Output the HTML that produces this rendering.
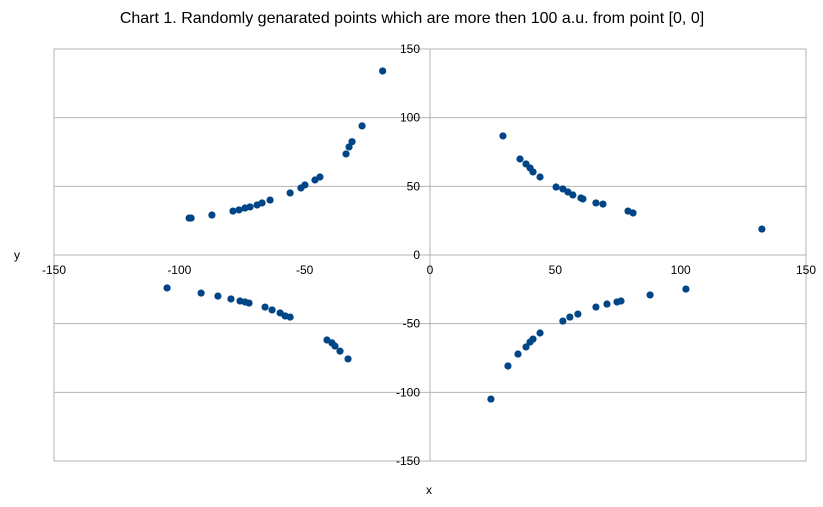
<!DOCTYPE html>
<html><head><meta charset="utf-8"><style>
body{margin:0;background:#fff;}
svg text{font-family:"Liberation Sans",sans-serif;fill:#000;}
</style></head><body>
<svg id="chart" width="823" height="502" xmlns="http://www.w3.org/2000/svg">
<text x="412" y="23" font-size="16" text-anchor="middle">Chart 1. Randomly genarated points which are more then 100 a.u. from point [0, 0]</text>
<text x="17" y="259" font-size="12" text-anchor="middle">y</text>
<text x="429" y="494" font-size="12" text-anchor="middle">x</text>
<g id="grid"></g><g id="axes"></g><g id="pts"></g>
</svg>
<script>
const xs=[-18.9,-27.1,-31.1,-32.3,-33.5,-43.9,-45.9,-49.9,-51.5,-55.8,-63.8,-67,-69,-71.8,-73.8,-76.2,-78.6,-87,-95.3,-96.1,
-104.9,-91.3,-84.6,-79.4,-75.8,-73.8,-72.2,-65.8,-63,-59.8,-57.8,-55.8,-41.1,-39.1,-37.9,-35.9,-32.7,
29.1,35.9,38.3,39.9,41.1,43.9,50.3,53,55,57,60.2,61,66.2,69,79,81,132.4,
24.3,31.1,35.1,38.3,39.9,41.1,43.9,53,55.8,59,66.2,70.6,74.6,76.2,87.8,102.1];
const ys=[134,94,82.5,78.7,73.6,56.8,54.6,51,48.8,45.2,40,37.9,36.4,35,34.2,32.8,32,29.1,26.9,26.9,
-24,-27.7,-29.9,-32,-33.5,-34.2,-35,-37.9,-40,-42.2,-44.4,-45.2,-61.9,-64,-66.3,-70,-75.7,
86.7,69.9,66.3,63.4,60.5,56.8,49.5,48.1,45.9,43.7,41.5,40.8,37.9,37.1,32,30.6,18.9,
-104.9,-80.8,-72.1,-67,-63.4,-61.2,-56.8,-48.1,-45.2,-43,-37.9,-35.7,-34.2,-33.5,-29.1,-24.8];
const xTicks=[-150,-100,-50,0,50,100,150];
const yTicks=[-150,-100,-50,0,50,100,150];
const NS="http://www.w3.org/2000/svg";
const L=54,R=806,T=49,B=461;
const sx=v=>L+(v+150)/300*(R-L);
const sy=v=>B-(v+150)/300*(B-T);
function mk(tag,attrs,parent){const e=document.createElementNS(NS,tag);for(const k in attrs)e.setAttribute(k,attrs[k]);parent.appendChild(e);return e;}
const grid=document.getElementById('grid'),axes=document.getElementById('axes'),pts=document.getElementById('pts');
const frame=mk('rect',{x:L,y:T,width:R-L,height:B-T,fill:'none',stroke:'#b3b3b3'},grid);


yTicks.forEach(v=>{
  const g=mk('line',{x1:L,x2:R,y1:sy(v),y2:sy(v),stroke:'#b3b3b3'},grid);
  
  
  const t=mk('text',{x:sx(0)-10,y:sy(v)+4,'font-size':12,'text-anchor':'end'},axes);
  t.textContent=v;
  
  
});
const va=mk('line',{x1:sx(0),x2:sx(0),y1:T,y2:B,stroke:'#b3b3b3'},axes);


xTicks.forEach(v=>{
  const t=mk('text',{x:sx(v),y:sy(0)+19,'font-size':12,'text-anchor':'middle'},axes);
  t.textContent=v;
  
  
});
xs.forEach((x,i)=>{
  const c=mk('circle',{cx:sx(x),cy:sy(ys[i]),r:3.6,fill:'#004586'},pts);
  
  
});
</script>
</body></html>
